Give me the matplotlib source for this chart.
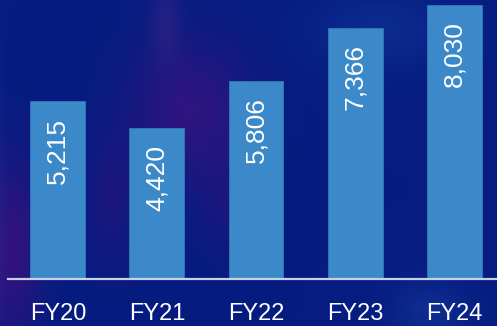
import numpy as np
import matplotlib.pyplot as plt

years = ["FY20", "FY21", "FY22", "FY23", "FY24"]
values = [5215, 4420, 5806, 7366, 8030]
value_labels = ["5,215", "4,420", "5,806", "7,366", "8,030"]

W, H = 497, 326
fig = plt.figure(figsize=(W / 100, H / 100), dpi=100)

# backdrop: navy field with soft purple / lighter blue glows
yy, xx = np.mgrid[0:H, 0:W].astype(float)
base = np.array([6, 28, 128], dtype=float)
img = np.ones((H, W, 3)) * base


def glow(cx, cy, sx, sy, color, strength):
    g = np.exp(-(((xx - cx) / sx) ** 2 + ((yy - cy) / sy) ** 2))
    return g[..., None] * (np.array(color, dtype=float) - base) * strength


img += glow(10, 250, 30, 90, (52, 18, 125), 0.95)
img += glow(190, 110, 60, 70, (50, 20, 128), 0.9)
img += glow(165, 20, 15, 40, (45, 40, 135), 0.6)
img += glow(110, 200, 25, 60, (42, 20, 125), 0.55)
img += glow(230, 200, 30, 50, (44, 18, 125), 0.45)
img += glow(380, 30, 70, 40, (15, 50, 150), 0.7)
img += glow(430, 310, 40, 30, (20, 55, 155), 0.6)
img += glow(-5, 200, 8, 150, (15, 45, 150), 0.6)
img = np.clip(img, 0, 255).astype(np.uint8)

bg = fig.add_axes([0, 0, 1, 1])
bg.imshow(img, aspect="auto", interpolation="bilinear")
bg.axis("off")

ax = fig.add_axes([8.3 / W, 47.3 / H, 495.4 / W, 278.7 / H])
ax.patch.set_alpha(0)
x = np.arange(len(years))
ax.bar(x, values, width=0.555, color="#3b89c8", edgecolor="#3279bd", linewidth=0.6)
ax.set_xlim(-0.5, 4.5)
ax.set_ylim(0, 8173)

for xi, v, lab in zip(x, values, value_labels):
    ax.annotate(lab, (xi, v), xytext=(0, -12), textcoords="offset points",
                rotation=90, ha="center", va="top", color="white",
                fontsize=19, family="Liberation Sans")

ax.set_xticks(x)
ax.set_xticklabels(years, color="white", fontsize=17, family="Liberation Sans")
ax.tick_params(axis="x", length=0, pad=17.5)
ax.set_yticks([])
for s in ["top", "left", "right"]:
    ax.spines[s].set_visible(False)
ax.spines["bottom"].set_color("#c9cfe2")
ax.spines["bottom"].set_linewidth(1.6)

fig.savefig("out.png", dpi=100)
